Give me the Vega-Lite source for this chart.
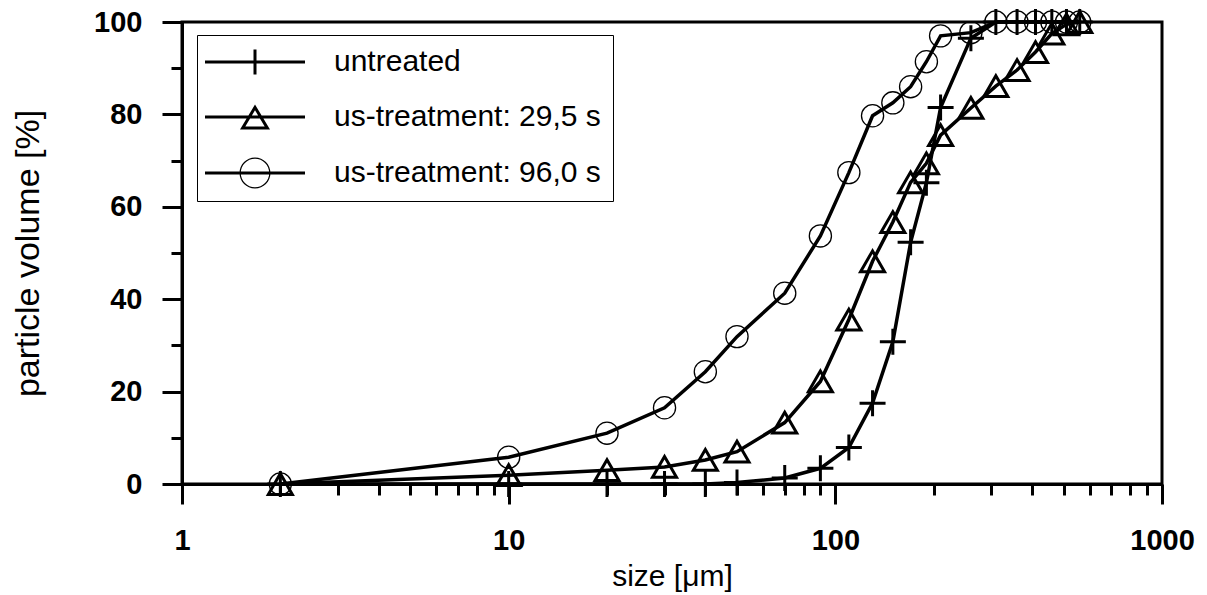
{
  "$schema": "https://vega.github.io/schema/vega-lite/v6.json",
  "width": 980,
  "height": 462,
  "autosize": "none",
  "padding": {"left": 182, "top": 22, "right": 45, "bottom": 111},
  "background": "white",
  "config": {
    "font": "Liberation Sans",
    "view": {"stroke": "black", "strokeWidth": 3},
    "axis": {"grid": false}
  },
  "data": {
    "values": [
      {"series": "untreated", "size": 2, "volume": 0},
      {"series": "untreated", "size": 10, "volume": 0},
      {"series": "untreated", "size": 20, "volume": 0},
      {"series": "untreated", "size": 30, "volume": 0},
      {"series": "untreated", "size": 40, "volume": 0},
      {"series": "untreated", "size": 50, "volume": 0.3},
      {"series": "untreated", "size": 70, "volume": 1.3},
      {"series": "untreated", "size": 90, "volume": 3.4},
      {"series": "untreated", "size": 110, "volume": 7.9},
      {"series": "untreated", "size": 130, "volume": 17.5},
      {"series": "untreated", "size": 150, "volume": 30.8},
      {"series": "untreated", "size": 170, "volume": 52.3},
      {"series": "untreated", "size": 190, "volume": 65.2},
      {"series": "untreated", "size": 210, "volume": 81.5},
      {"series": "untreated", "size": 260, "volume": 96.5},
      {"series": "untreated", "size": 310, "volume": 100},
      {"series": "untreated", "size": 360, "volume": 100},
      {"series": "untreated", "size": 410, "volume": 100},
      {"series": "untreated", "size": 460, "volume": 100},
      {"series": "untreated", "size": 510, "volume": 100},
      {"series": "untreated", "size": 560, "volume": 100},
      {"series": "us-treatment: 29,5 s", "size": 2, "volume": 0},
      {"series": "us-treatment: 29,5 s", "size": 10, "volume": 1.9},
      {"series": "us-treatment: 29,5 s", "size": 20, "volume": 3.0},
      {"series": "us-treatment: 29,5 s", "size": 30, "volume": 3.7},
      {"series": "us-treatment: 29,5 s", "size": 40, "volume": 5.2},
      {"series": "us-treatment: 29,5 s", "size": 50, "volume": 7.0},
      {"series": "us-treatment: 29,5 s", "size": 70, "volume": 13.3},
      {"series": "us-treatment: 29,5 s", "size": 90, "volume": 22.2},
      {"series": "us-treatment: 29,5 s", "size": 110, "volume": 35.6},
      {"series": "us-treatment: 29,5 s", "size": 130, "volume": 48.2},
      {"series": "us-treatment: 29,5 s", "size": 150, "volume": 56.7},
      {"series": "us-treatment: 29,5 s", "size": 170, "volume": 65.3},
      {"series": "us-treatment: 29,5 s", "size": 190, "volume": 69.4},
      {"series": "us-treatment: 29,5 s", "size": 210, "volume": 75.5},
      {"series": "us-treatment: 29,5 s", "size": 260, "volume": 81.4},
      {"series": "us-treatment: 29,5 s", "size": 310, "volume": 86.1},
      {"series": "us-treatment: 29,5 s", "size": 360, "volume": 89.6},
      {"series": "us-treatment: 29,5 s", "size": 410, "volume": 93.5},
      {"series": "us-treatment: 29,5 s", "size": 460, "volume": 97.5},
      {"series": "us-treatment: 29,5 s", "size": 510, "volume": 99.5},
      {"series": "us-treatment: 29,5 s", "size": 560, "volume": 100},
      {"series": "us-treatment: 96,0 s", "size": 2, "volume": 0},
      {"series": "us-treatment: 96,0 s", "size": 10, "volume": 5.8},
      {"series": "us-treatment: 96,0 s", "size": 20, "volume": 11.0},
      {"series": "us-treatment: 96,0 s", "size": 30, "volume": 16.5},
      {"series": "us-treatment: 96,0 s", "size": 40, "volume": 24.3},
      {"series": "us-treatment: 96,0 s", "size": 50, "volume": 31.9},
      {"series": "us-treatment: 96,0 s", "size": 70, "volume": 41.3},
      {"series": "us-treatment: 96,0 s", "size": 90, "volume": 53.7},
      {"series": "us-treatment: 96,0 s", "size": 110, "volume": 67.4},
      {"series": "us-treatment: 96,0 s", "size": 130, "volume": 79.7},
      {"series": "us-treatment: 96,0 s", "size": 150, "volume": 82.5},
      {"series": "us-treatment: 96,0 s", "size": 170, "volume": 86.0},
      {"series": "us-treatment: 96,0 s", "size": 190, "volume": 91.4},
      {"series": "us-treatment: 96,0 s", "size": 210, "volume": 97.0},
      {"series": "us-treatment: 96,0 s", "size": 260, "volume": 97.7},
      {"series": "us-treatment: 96,0 s", "size": 310, "volume": 100},
      {"series": "us-treatment: 96,0 s", "size": 360, "volume": 100},
      {"series": "us-treatment: 96,0 s", "size": 410, "volume": 100},
      {"series": "us-treatment: 96,0 s", "size": 460, "volume": 100},
      {"series": "us-treatment: 96,0 s", "size": 510, "volume": 100},
      {"series": "us-treatment: 96,0 s", "size": 560, "volume": 100}
    ]
  },
  "layer": [
    {
      "mark": {"type": "line", "color": "black", "strokeWidth": 3.5},
      "encoding": {
        "x": {
          "field": "size", "type": "quantitative",
          "scale": {"type": "log", "domain": [1, 1000], "nice": false},
          "axis": {
            "orient": "bottom", "values": [1, 10, 100, 1000], "format": "d",
            "tickSize": 20, "tickWidth": 3, "tickColor": "black",
            "domainWidth": 3, "domainColor": "black",
            "labelFontSize": 29, "labelFontWeight": "bold", "labelColor": "black",
            "labelPadding": 22, "labelFlush": false, "labelOverlap": false,
            "title": "size [μm]", "titleFontSize": 30, "titleFontWeight": "normal",
            "titleColor": "black", "titlePadding": 6
          }
        },
        "y": {
          "field": "volume", "type": "quantitative",
          "scale": {"domain": [0, 100], "nice": false, "zero": true},
          "axis": {
            "orient": "left", "values": [0, 20, 40, 60, 80, 100],
            "tickSize": 20, "tickWidth": 3, "tickColor": "black",
            "domainWidth": 3, "domainColor": "black",
            "labelFontSize": 29, "labelFontWeight": "bold", "labelColor": "black",
            "labelPadding": 20, "labelFlush": false, "labelOverlap": false,
            "title": "particle volume [%]", "titleFontSize": 34, "titleFontWeight": "normal",
            "titleColor": "black", "titlePadding": 48
          }
        },
        "detail": {"field": "series"},
        "order": {"field": "size", "type": "quantitative"}
      }
    },
    {
      "mark": {"type": "point", "filled": false, "color": "black", "opacity": 1},
      "encoding": {
        "x": {"field": "size", "type": "quantitative", "axis": null},
        "y": {"field": "volume", "type": "quantitative", "axis": null},
        "shape": {
          "field": "series", "type": "nominal",
          "scale": {
            "domain": ["untreated", "us-treatment: 29,5 s", "us-treatment: 96,0 s"],
            "range": ["M-1,0H1M0,-1V1", "triangle-up", "circle"]
          },
          "legend": null
        },
        "size": {
          "condition": [
            {"test": "datum.series === 'untreated'", "value": 676},
            {"test": "datum.series === 'us-treatment: 96,0 s'", "value": 491}
          ],
          "value": 576
        },
        "strokeWidth": {
          "condition": {"test": "datum.series === 'us-treatment: 96,0 s'", "value": 1.3},
          "value": 3
        }
      }
    },
    {
      "transform": [{"filter": "false"}],
      "mark": {"type": "point", "filled": true, "color": "black", "strokeWidth": 0, "size": 625, "opacity": 1},
      "encoding": {
        "x": {"field": "size", "type": "quantitative", "axis": null},
        "y": {"field": "volume", "type": "quantitative", "axis": null},
        "shape": {
          "field": "series", "type": "nominal",
          "scale": {
            "domain": ["untreated", "us-treatment: 29,5 s", "us-treatment: 96,0 s"],
            "range": [
              "M-4,-0.12H4V0.12H-4Z M-0.12,-1H0.12V1H-0.12Z",
              "M-4,-0.12H4V0.12H-4Z M0,-1L1.2,1L-1.2,1Z M0,-0.534L-0.776,0.76L0.776,0.76Z",
              "M-4,-0.12H4V0.12H-4Z M1.24,0A1.24,1.24 0 1,1 -1.24,0A1.24,1.24 0 1,1 1.24,0Z M1.14,0A1.14,1.14 0 1,0 -1.14,0A1.14,1.14 0 1,0 1.14,0Z"
            ]
          },
          "legend": {
            "orient": "none", "legendX": 15, "legendY": 13,
            "title": null,
            "strokeColor": "black",
            "padding": 12,
            "symbolSize": 625,
            "symbolOffset": 31,
            "labelOffset": 64,
            "rowPadding": 25,
            "labelLimit": 500,
            "labelFontSize": 30, "labelColor": "black", "labelFont": "Liberation Sans",
            "symbolOpacity": 1,
            "symbolFillColor": "black",
            "symbolStrokeWidth": 0
          }
        }
      }
    },
    {
      "mark": {"type": "point", "opacity": 0},
      "encoding": {
        "x": {
          "field": "size", "type": "quantitative",
          "axis": {
            "orient": "bottom",
            "values": [2, 3, 4, 5, 6, 7, 8, 9, 20, 30, 40, 50, 60, 70, 80, 90, 200, 300, 400, 500, 600, 700, 800, 900],
            "tickSize": 11, "tickWidth": 3, "tickColor": "black",
            "labels": false, "domain": false, "title": null
          }
        },
        "y": {
          "field": "volume", "type": "quantitative",
          "axis": {
            "orient": "left", "values": [10, 30, 50, 70, 90],
            "tickSize": 11, "tickWidth": 3, "tickColor": "black",
            "labels": false, "domain": false, "title": null
          }
        }
      }
    }
  ],
  "resolve": {
    "axis": {"x": "independent", "y": "independent"},
    "scale": {"shape": "independent"}
  }
}
